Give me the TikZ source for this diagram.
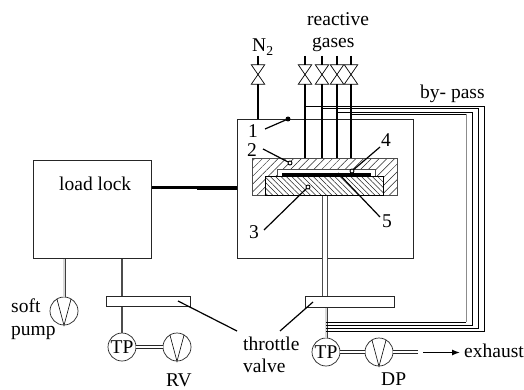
\documentclass[tikz,border=0pt]{standalone}
\usepackage{fontspec}
\setmainfont{Liberation Serif}
\usetikzlibrary{patterns.meta,arrows.meta}
\tikzset{
  txt/.style={anchor=base west,inner sep=0pt,font=\fontsize{19.5}{22}\selectfont},
  box/.style={draw=black!85,line width=0.8pt,fill=white,anchor=north west,inner sep=0pt},
  valvebox/.style={inner sep=0pt,minimum width=13pt,minimum height=19pt},
  bow/.style={line width=0.7pt},
  gasline/.style={line width=1.5pt},
  leader/.style={line width=1.2pt},
  dot/.style={circle,draw,line width=0.9pt,fill=white,inner sep=0pt,minimum size=4pt},
  pump/.style={circle,draw=black!85,line width=0.7pt,fill=white,minimum size=28pt,inner sep=0pt},
  tp/.style={pump,font=\fontsize{19.5}{22}\selectfont},
  pipe/.style={draw=black!75,line width=0.8pt,double=white!85!black,double distance=1.4pt},
  pipedark/.style={draw=black!70,line width=2.4pt},
  twin/.style={draw=black!85,line width=0.7pt,double=white,double distance=2pt},
  bp/.style={line width=0.8pt}
}
\begin{document}
\begin{tikzpicture}[x=1pt,y=-1pt]
\clip (0,0) rectangle (524,390);
\fill[white] (0,0) rectangle (524,390);
% chamber and load lock
\node[box,minimum width=176pt,minimum height=139pt] (chamber) at (237,119) {};
\node[box,minimum width=118pt,minimum height=98pt] (lock) at (33,160) {};
\draw[line width=2.2pt] (lock.east |- 0,187.5) -- (chamber.west |- 0,187.5);
\coordinate (thick) at (197,188);
\draw[line width=3pt] (thick) -- (chamber.west |- thick);
% holder
\node[box,draw=black!70,minimum width=145pt,minimum height=37pt,pattern={Lines[angle=45,distance=5.5pt,line width=0.5pt]},pattern color=black!85] (block) at (252,158) {};
\node[box,draw=black!70,line width=0.6pt,minimum width=98pt,minimum height=9pt] (cavity) at (277,169) {};
\node[box,draw=black,line width=1.2pt,fill=white,minimum width=118pt,minimum height=19pt] (subbg) at (265,176) {};
\node[box,draw=black,line width=1.2pt,fill=none,minimum width=118pt,minimum height=19pt,pattern={Lines[angle=-45,distance=3.8pt,line width=0.5pt]},pattern color=black!85] (sub) at (265,176) {};
\node[fill=black,inner sep=0pt,minimum width=89pt,minimum height=3.2pt,anchor=north west] (wafer) at (282,172.5) {};
% valves and feed lines
\foreach \n/\xx in {n/258,a/305,b/322,c/337,d/351}{
  \node[valvebox] (v\n) at (\xx,74.5) {};
  \draw[bow] (v\n.north west) -- (v\n.south east) -- (v\n.south west) -- (v\n.north east) -- cycle;
  \coordinate (t\n) at (\xx,56);
  \draw[gasline] (t\n) -- (v\n.north);
}
\draw[line width=1.8pt] (vn.south) -- (vn.south |- chamber.north);
\foreach \n in {a,b,c,d}{\draw[gasline] (v\n.south) -- (v\n.south |- block.north);}
% pumping line of chamber
\node[box,draw=black!85,line width=0.9pt,minimum width=89pt,minimum height=11pt] (tv2) at (305,296) {};
\node[box,draw=black!85,line width=0.9pt,minimum width=84pt,minimum height=10pt] (tv1) at (106,296) {};
\coordinate (p1) at (325,195);
\draw[draw=black!70,line width=1pt,double=white,double distance=4.5pt] (block.south -| p1) -- (tv2.north -| p1);
% pumps
\node[tp] (tp2) at (326,352) {TP};
\node[pump] (dp) at (379,352) {};
\node[tp] (tp1) at (122,347) {TP};
\node[pump] (rv) at (177,347) {};
\node[pump] (sp) at (64,311) {};
\foreach \q in {dp,rv,sp}{\draw[line width=0.6pt] (\q.120) -- (\q.south) -- (\q.60);}
\draw[pipe] (tv2.south -| tp2) -- (tp2.north);
\draw[pipedark] (lock.south -| tp1) -- (tv1.north -| tp1);
\draw[pipedark] (tv1.south -| tp1) -- (tp1.north);
\draw[pipe] (lock.south -| sp) -- (sp.north);
\draw[twin] (tp1.east) -- (rv.west);
\draw[twin] (tp2.east) -- (dp.west);
\coordinate (dpend) at (418,352);
\draw[twin] (dp.east) -- (dpend);
% by-pass
\coordinate (bpend) at (326,322);
\draw[bp] (vd.south |- 0,114) -- (466,114);
\draw[bp] (bpend) -- (466,322);
\draw[draw=black!45,line width=1pt] (466,114) -- (466,322);
\draw[bp] (vc.south |- 0,112) -- (472,112) -- (472,325) -- (bpend |- 0,325);
\draw[bp] (vb.south |- 0,108) -- (478,108) -- (478,328) -- (bpend |- 0,328);
\draw[bp] (va.south |- 0,106) -- (484,106) -- (484,331) -- (bpend |- 0,331);
% labels
\node[txt] (ll) at (59,190) {load lock};
\node[txt] (rg1) at (307,26) {reactive};
\node[txt] (rg2) at (312,48) {gases};
\node[txt] (n2) at (252,52) {N\textsubscript{2}};
\node[txt] (by) at (420,99) {by- pass};
\node[txt] (n1) at (248,138) {1};
\node[txt] (n2b) at (247,157) {2};
\node[txt] (n3) at (249,238) {3};
\node[txt] (n4) at (381,147) {4};
\node[txt] (n5) at (382,227) {5};
\node[txt] (soft) at (11,312) {soft};
\node[txt] (pumpl) at (11,335) {pump};
\node[txt] (rvl) at (166,386) {RV};
\node[txt] (dpl) at (381,385.5) {DP};
\node[txt] (thr) at (243,350) {throttle};
\node[txt] (val) at (243,372) {valve};
\node[txt] (exh) at (464,357) {exhaust};
% leaders
\node[dot,fill=black] (d1) at (288,119) {};
\node[dot] (d2) at (290,163) {};
\node[dot] (d3) at (308,187) {};
\node[dot] (d4) at (352,171) {};
\coordinate (d5) at (338,173);
\coordinate (l1) at (265,129);
\coordinate (l2) at (263,149);
\coordinate (l3) at (264,230);
\coordinate (l4) at (380,147);
\coordinate (l5) at (380,217);
\draw[leader] (l1) -- (d1);
\draw[leader] (l2) -- (d2);
\draw[leader] (l3) -- (d3);
\draw[leader] (l4) -- (d4);
\draw[leader] (l5) -- (d5);
\coordinate (la) at (237,331);
\coordinate (lb) at (178,301);
\coordinate (lc) at (280,331);
\coordinate (ld) at (313,302);
\draw[leader] (la) -- (lb);
\draw[leader] (lc) -- (ld);
% exhaust arrow
\coordinate (ar) at (423,352.5);
\coordinate (are) at (460,352.5);
\draw[line width=1.3pt,-{Latex[length=8pt,width=6pt]}] (ar) -- (are);
\end{tikzpicture}
\end{document}
